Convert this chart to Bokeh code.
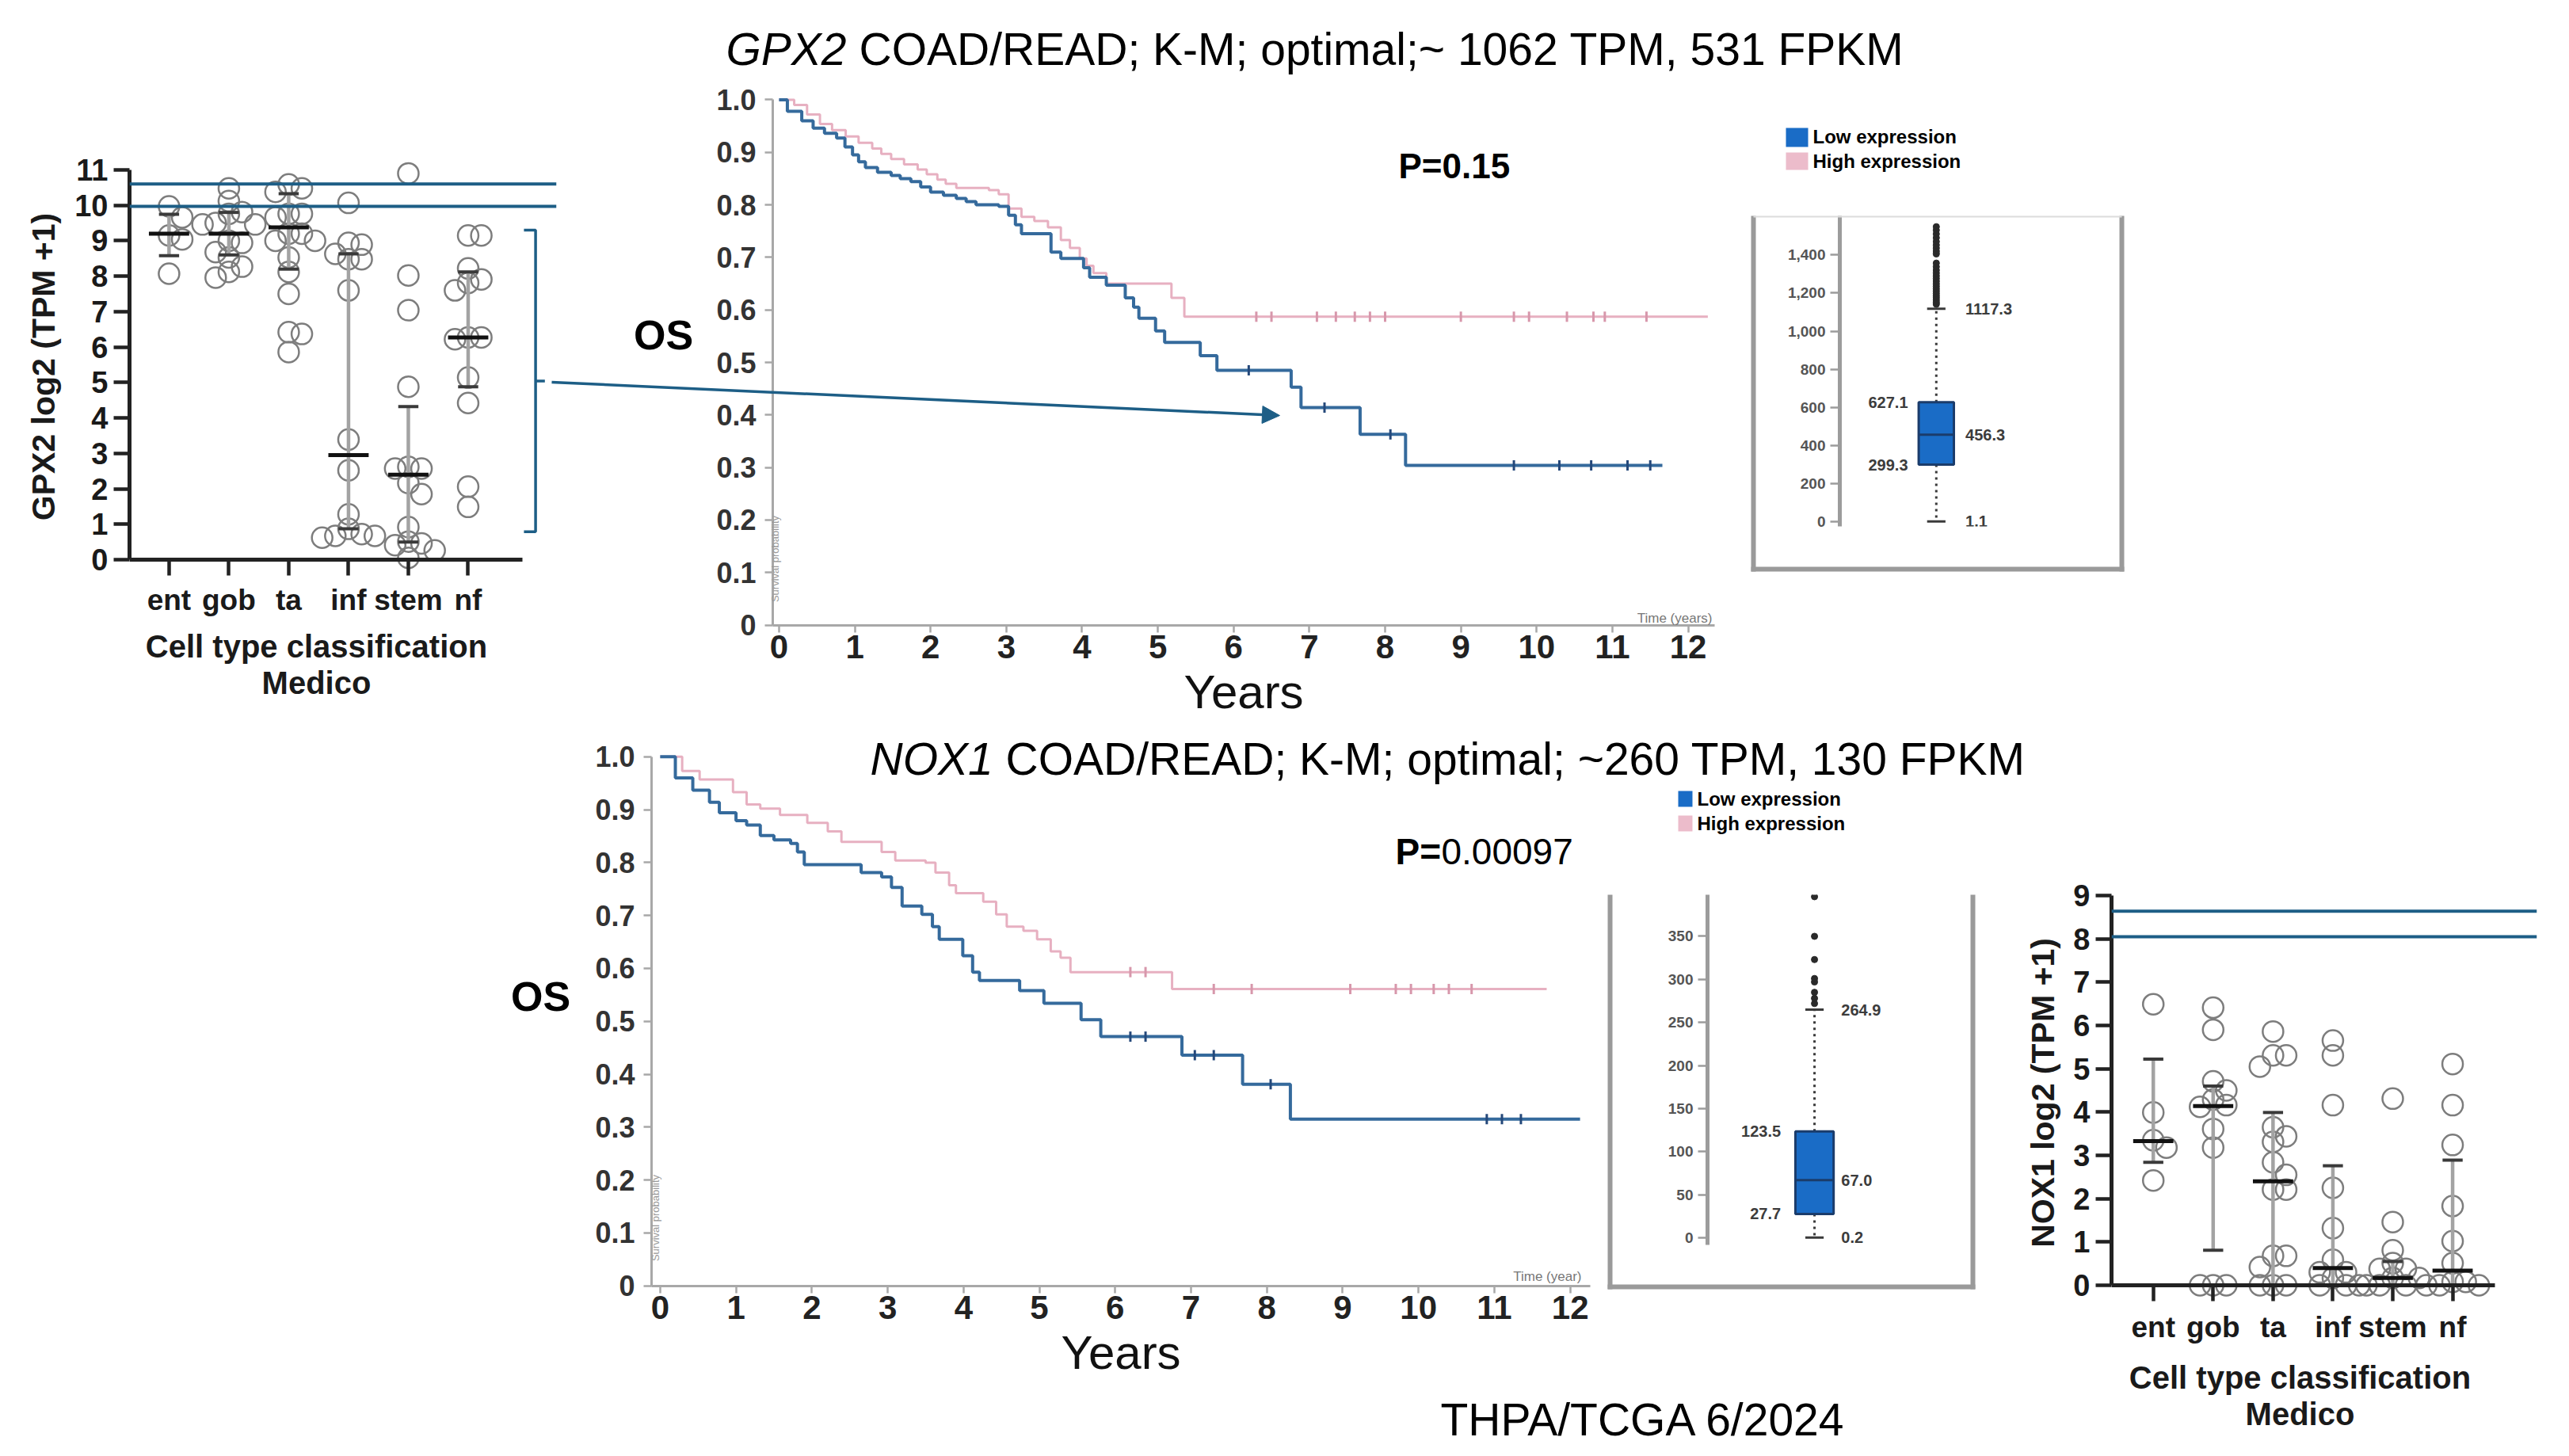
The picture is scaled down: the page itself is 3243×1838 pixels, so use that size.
import numpy as np
from bokeh.plotting import figure
from bokeh.models import (Range1d, FixedTicker, Span, Column, PrintfTickFormatter,
                          NumeralTickFormatter, Arrow, NormalHead, LinearAxis)
from bokeh.core.properties import value
from bokeh.embed import file_html
from bokeh.resources import INLINE

FONT = "Liberation Sans"

# ------------------------------------------------------------------ data
CELL_TYPES = ["ent", "gob", "ta", "inf", "stem", "nf"]
CELL_AXIS_TITLE = ["Cell type classification", "Medico"]

# GPX2 log2(TPM+1) per cell type (Medico)
GPX2_ENT = [9.97, 9.66, 9.15, 9.04, 8.07]
GPX2_GOB = [10.48, 10.12, 9.81, 9.76, 9.50, 9.46, 9.46, 9.00, 8.94, 8.68, 8.53, 8.27, 8.12, 7.96]
GPX2_TA = [10.59, 10.48, 10.38, 9.76, 9.76, 9.66, 9.20, 9.20, 9.00, 9.00, 8.53, 8.12, 7.50, 6.42, 6.37, 5.86]
GPX2_INF = [10.07, 8.94, 8.89, 8.63, 8.48, 8.48, 7.60, 3.39, 2.52, 1.28, 0.87, 0.72, 0.67, 0.67, 0.62]
GPX2_STEM = [10.90, 8.02, 7.04, 4.88, 2.62, 2.57, 2.57, 2.16, 1.85, 0.92, 0.51, 0.46, 0.41, 0.26, 0.05]
GPX2_NF = [9.15, 9.15, 8.22, 7.91, 7.81, 7.60, 6.27, 6.27, 6.22, 5.14, 4.42, 2.06, 1.49]
GPX2_MEDIAN = [9.20, 9.20, 9.38, 2.95, 2.40, 6.27]
GPX2_ERR_LOW = [8.58, 8.60, 8.20, 0.87, 0.50, 4.88]
GPX2_ERR_HIGH = [9.75, 9.80, 10.33, 8.63, 4.32, 8.12]
GPX2_REF_LINES = [10.60, 9.97]
GPX2_BRACKET = [0.79, 5.04, 9.30]

# NOX1 log2(TPM+1) per cell type (Medico)
NOX1_ENT = [6.49, 3.99, 3.35, 3.18, 2.42]
NOX1_GOB = [6.41, 5.90, 4.71, 4.50, 4.29, 4.16, 4.12, 3.61, 3.18, 0.0, 0.0, 0.0]
NOX1_TA = [5.86, 5.31, 5.31, 5.05, 3.65, 3.44, 3.31, 2.84, 2.55, 2.21, 2.21, 0.68, 0.68, 0.42, 0.0, 0.0, 0.0]
NOX1_INF = [5.65, 5.31, 4.16, 2.25, 1.32, 0.59, 0.30, 0.30, 0.17, 0.0, 0.0, 0.0]
NOX1_STEM = [4.31, 1.46, 0.81, 0.51, 0.38, 0.38, 0.17, 0.17, 0.0, 0.0, 0.0]
NOX1_NF = [5.11, 4.16, 3.24, 1.83, 1.02, 0.51, 0.08, 0.08, 0.0, 0.0, 0.0]
NOX1_MEDIAN = [3.33, 4.14, 2.40, 0.40, 0.17, 0.34]
NOX1_ERR_LOW = [2.84, 0.81, 0.0, 0.0, 0.0, 0.0]
NOX1_ERR_HIGH = [5.22, 4.60, 3.99, 2.76, 0.55, 2.89]
NOX1_REF_LINES = [8.64, 8.05]

# Kaplan-Meier, GPX2 (years, survival after the step)
GPX2_LOW_T = [0, 0.11, 0.30, 0.45, 0.60, 0.76, 0.87, 0.97, 1.05, 1.14, 1.30, 1.48, 1.60, 1.74, 1.87, 2.00,
              2.17, 2.34, 2.47, 2.60, 2.90, 3.03, 3.12, 3.20, 3.59, 3.72, 4.02, 4.10, 4.32, 4.57, 4.68,
              4.75, 4.97, 5.09, 5.56, 5.78, 6.76, 6.89, 7.67, 8.27]
GPX2_LOW_S = [1.0, 0.978, 0.960, 0.946, 0.936, 0.927, 0.910, 0.895, 0.882, 0.871, 0.862, 0.856, 0.850,
              0.844, 0.834, 0.824, 0.818, 0.812, 0.806, 0.800, 0.797, 0.780, 0.762, 0.745, 0.710, 0.698,
              0.680, 0.662, 0.647, 0.623, 0.605, 0.584, 0.560, 0.538, 0.513, 0.485, 0.453, 0.414, 0.363,
              0.304]
GPX2_LOW_END = 11.66
GPX2_LOW_CENSOR = [6.2, 7.2, 8.07, 9.7, 10.3, 10.72, 11.2, 11.5]
GPX2_HIGH_T = [0, 0.20, 0.37, 0.54, 0.70, 0.88, 1.05, 1.23, 1.35, 1.48, 1.65, 1.83, 1.95, 2.09, 2.20, 2.34,
               2.77, 2.90, 3.03, 3.20, 3.37, 3.55, 3.72, 3.84, 3.97, 4.06, 4.15, 4.32, 5.18, 5.35]
GPX2_HIGH_S = [1.0, 0.990, 0.972, 0.954, 0.942, 0.930, 0.918, 0.907, 0.897, 0.887, 0.877, 0.867, 0.858,
               0.848, 0.840, 0.832, 0.828, 0.820, 0.793, 0.777, 0.769, 0.757, 0.733, 0.718, 0.698, 0.684,
               0.670, 0.650, 0.623, 0.587]
GPX2_HIGH_END = 12.26
GPX2_HIGH_CENSOR = [6.3, 6.5, 7.1, 7.35, 7.6, 7.8, 8.0, 9.0, 9.7, 9.9, 10.4, 10.75, 10.9, 11.45]
GPX2_P = "P=0.15"

# Kaplan-Meier, NOX1
NOX1_LOW_T = [0, 0.20, 0.43, 0.65, 0.78, 1.00, 1.14, 1.32, 1.50, 1.72, 1.81, 1.90, 2.65, 2.92, 3.05, 3.19,
              3.45, 3.59, 3.68, 3.99, 4.12, 4.21, 4.74, 5.06, 5.55, 5.81, 6.88, 7.68, 8.31]
NOX1_LOW_S = [1.0, 0.960, 0.937, 0.914, 0.894, 0.879, 0.871, 0.851, 0.843, 0.836, 0.820, 0.796, 0.781,
              0.773, 0.753, 0.718, 0.702, 0.679, 0.655, 0.624, 0.593, 0.577, 0.558, 0.534, 0.503, 0.471,
              0.436, 0.381, 0.315]
NOX1_LOW_END = 12.13
NOX1_LOW_CENSOR = [6.2, 6.4, 7.05, 7.3, 8.05, 10.9, 11.1, 11.35]
NOX1_HIGH_T = [0, 0.29, 0.52, 0.96, 1.14, 1.32, 1.58, 1.94, 2.21, 2.39, 2.92, 3.10, 3.50, 3.63, 3.81, 3.90,
               4.26, 4.43, 4.57, 4.79, 4.97, 5.15, 5.28, 5.41, 6.75]
NOX1_HIGH_S = [1.0, 0.973, 0.957, 0.933, 0.910, 0.902, 0.890, 0.875, 0.859, 0.839, 0.820, 0.804, 0.800,
               0.781, 0.757, 0.742, 0.726, 0.702, 0.679, 0.671, 0.655, 0.632, 0.620, 0.593, 0.561]
NOX1_HIGH_END = 11.69
NOX1_HIGH_CENSOR = [6.2, 6.4, 7.3, 7.8, 9.1, 9.7, 9.9, 10.2, 10.4, 10.7]
NOX1_P_BOLD = "P="
NOX1_P_VALUE = "0.00097"

# TPM box plots: [lower whisker, Q1, median, Q3, upper whisker]
GPX2_BOX = [1.1, 299.3, 456.3, 627.1, 1117.3]
GPX2_BOX_OUTLIERS = [1141, 1152, 1163, 1175, 1186, 1198, 1210, 1222, 1235, 1248, 1262, 1276, 1290, 1305,
                     1320, 1338, 1357, 1405, 1420, 1436, 1452, 1470, 1490, 1510, 1530, 1548]
GPX2_BOX_TICKS = [0, 200, 400, 600, 800, 1000, 1200, 1400]
NOX1_BOX = [0.2, 27.7, 67.0, 123.5, 264.9]
NOX1_BOX_OUTLIERS = [272, 278, 285, 297, 301, 323, 350, 396]
NOX1_BOX_TICKS = [0, 50, 100, 150, 200, 250, 300, 350]

KM_YTICKS = [0, 0.1, 0.2, 0.3, 0.4, 0.5, 0.6, 0.7, 0.8, 0.9, 1.0]
KM_XTICKS = list(range(0, 13))

# ------------------------------------------------------------------ style
NAVY = "#1d5e86"
LOW_C = "#356a9c"
LOW_CENS = "#24487a"
HIGH_C = "#e7b0c1"
HIGH_CENS = "#d797ab"
BOX_FILL = "#1a6cc6"
BOX_EDGE = "#1b3c6b"
PAD_L = 190   # generous side borders so the plot frame lands exactly where wanted
PAD_R = 28


def base_fig(canvas, frame, x_range, y_range):
    cl, ct, cr, cb = canvas
    fl, ft, fr, fb = frame
    p = figure(width=cr - cl, height=cb - ct, x_range=x_range, y_range=y_range,
               output_backend="svg", toolbar_location=None,
               min_border_left=fl - cl, min_border_right=cr - fr,
               min_border_top=ft - ct, min_border_bottom=cb - fb)
    p.background_fill_color = None
    p.border_fill_color = None
    p.outline_line_color = None
    p.grid.visible = False
    p.styles = {"position": "absolute", "left": f"{cl - 8}px", "top": f"{ct - 8}px"}
    return p


def style_axis(ax, line_color, line_width, tick_out, tick_width, size, color, standoff, bold=True):
    ax.axis_line_color = line_color
    ax.axis_line_width = line_width
    ax.major_tick_line_color = line_color
    ax.major_tick_line_width = tick_width
    ax.major_tick_out = tick_out
    ax.major_tick_in = 0
    ax.minor_tick_line_color = None
    ax.major_label_text_font = FONT
    ax.major_label_text_font_size = size
    ax.major_label_text_font_style = "bold" if bold else "normal"
    ax.major_label_text_color = color
    ax.major_label_standoff = standoff


def swarm(vals, pxu_y, step=17.0, mind=16.0):
    placed, offs = [], []
    cands = [0.0]
    for i in range(1, 10):
        cands += [i * step, -i * step]
    for v in vals:
        y = v * pxu_y
        for c in cands:
            if all((c - px) ** 2 + (y - py) ** 2 >= mind ** 2 for px, py in placed):
                break
        placed.append((c, y))
        offs.append(c)
    return offs


def dot_panel(groups, med, elo, ehi, refs, ylabel, ytop, canvas, frame,
              first_x, pxu_x, y0_px, pxu_y, axis_end_px, label_standoff, cat_standoff):
    fl, ft, fr, fb = frame
    xr = Range1d(1 + (fl - first_x) / pxu_x, 1 + (fr - first_x) / pxu_x)
    yr = Range1d((y0_px - fb) / pxu_y, (y0_px - ft) / pxu_y)
    p = base_fig(canvas, frame, xr, yr)
    for v in refs:
        p.add_layout(Span(location=v, dimension="width", line_color=NAVY, line_width=4))
    cx, cy = [], []
    for i, vals in enumerate(groups):
        offs = swarm(vals, pxu_y)
        cx += [i + 1 + o / pxu_x for o in offs]
        cy += vals
    p.scatter(cx, cy, marker="circle", size=26, fill_color=None,
              line_color="#7d7d7d", line_width=2.5)
    pos = list(range(1, len(groups) + 1))
    p.segment(pos, elo, pos, ehi, line_color="#a3a3a3", line_width=4.5)
    cap = 13 / pxu_x
    mw = 26 / pxu_x
    p.segment([x - cap for x in pos], elo, [x + cap for x in pos], elo, line_color="#3a3a3a", line_width=4)
    p.segment([x - cap for x in pos], ehi, [x + cap for x in pos], ehi, line_color="#3a3a3a", line_width=4)
    p.segment([x - mw for x in pos], med, [x + mw for x in pos], med, line_color="#111111", line_width=5)

    # x baseline + ticks drawn at y = 0
    base = LinearAxis(fixed_location=0, ticker=FixedTicker(ticks=pos),
                      bounds=(xr.start, 1 + (axis_end_px - first_x) / pxu_x))
    style_axis(base, "#222222", 5, 0, 4.5, "1px", None, 0)
    base.major_tick_in = 20
    base.major_label_text_alpha = 0
    p.add_layout(base, "above")
    # category names under the frame
    xa = p.xaxis[0]
    for ax in p.xaxis:
        if ax is not base:
            xa = ax
    xa.ticker = FixedTicker(ticks=pos)
    xa.major_label_overrides = {i + 1: n for i, n in enumerate(CELL_TYPES)}
    style_axis(xa, None, 1, 0, 1, "37px", "#1a1a1a", cat_standoff)
    xa.major_tick_line_color = None

    ya = p.yaxis[0]
    ya.bounds = (0, ytop)
    ya.ticker = FixedTicker(ticks=list(range(0, ytop + 1)))
    style_axis(ya, "#222222", 5, 20, 4.5, "38px", "#1a1a1a", 7)
    ya.axis_label = ylabel
    ya.axis_label_text_font = FONT
    ya.axis_label_text_font_size = "41px"
    ya.axis_label_text_font_style = "bold"
    ya.axis_label_text_color = "#1a1a1a"
    ya.axis_label_standoff = label_standoff
    return p


def km_panel(curves, canvas, frame, x0_px, pxu_x, y0_px, pxu_y):
    fl, ft, fr, fb = frame
    xr = Range1d((fl - x0_px) / pxu_x, (fr - x0_px) / pxu_x)
    yr = Range1d((y0_px - fb) / pxu_y, (y0_px - ft) / pxu_y)
    p = base_fig(canvas, frame, xr, yr)
    for t, s, t_end, cens, color, ccol, lw in curves:
        p.step(t + [t_end], s + [s[-1]], mode="after", line_color=color, line_width=lw)
        idx = np.searchsorted(np.array(t), np.array(cens), side="right") - 1
        p.scatter(cens, [s[i] for i in idx], marker="dash", angle=np.pi / 2, size=13,
                  line_color=ccol, line_width=3)
    xa, ya = p.xaxis[0], p.yaxis[0]
    xa.ticker = FixedTicker(ticks=KM_XTICKS)
    style_axis(xa, "#a8a8a8", 3, 9, 2.5, "42px", "#222222", 3)
    xa.axis_label = "Years"
    xa.axis_label_text_font = FONT
    xa.axis_label_text_font_size = "60px"
    xa.axis_label_text_font_style = "normal"
    xa.axis_label_text_color = "#111111"
    xa.axis_label_standoff = 6
    ya.ticker = FixedTicker(ticks=KM_YTICKS)
    ya.formatter = PrintfTickFormatter(format="%.1f")
    ya.major_label_overrides = {0: "0"}
    ya.bounds = (0, 1.0)
    style_axis(ya, "#a8a8a8", 3, 10, 2.5, "36px", "#333333", 11)
    return p


def box_panel(stats, outliers, ticks, canvas, frame, y0_px, pxu_y, center_px, half_px, cap_px, dx_r, dx_l):
    fl, ft, fr, fb = frame
    xr = Range1d(1 + (fl - center_px) / 100.0, 1 + (fr - center_px) / 100.0)
    yr = Range1d((y0_px - fb) / pxu_y, (y0_px - ft) / pxu_y)
    p = base_fig(canvas, frame, xr, yr)
    lo, q1, md, q3, hi = stats
    bw = 2 * half_px / 100.0
    cw = cap_px / 100.0
    p.segment([1, 1], [q3, q1], [1, 1], [hi, lo], line_color="#3a3a3a", line_width=3, line_dash="3 5")
    p.segment([1 - cw, 1 - cw], [hi, lo], [1 + cw, 1 + cw], [hi, lo], line_color="#3a3a3a", line_width=3)
    p.scatter([1] * len(outliers), outliers, marker="circle", size=8, fill_color="#2a2a2a",
              line_color="#2a2a2a")
    p.vbar(x=[1], bottom=[q1], top=[q3], width=bw, fill_color=BOX_FILL, line_color=BOX_EDGE, line_width=3)
    p.segment([1 - bw / 2], [md], [1 + bw / 2], [md], line_color=BOX_EDGE, line_width=3)
    rvals = [hi, md, lo]
    lvals = [q3, q1]
    p.text([1 + dx_r / 100.0] * 3, rvals, text=[f"{v:.1f}" for v in rvals], text_align="left",
           text_baseline="middle", text_font=value(FONT), text_font_size="20px",
           text_font_style="bold", text_color="#3c3c3c")
    p.text([1 - dx_l / 100.0] * 2, lvals, text=[f"{v:.1f}" for v in lvals], text_align="right",
           text_baseline="middle", text_font=value(FONT), text_font_size="20px",
           text_font_style="bold", text_color="#3c3c3c")
    p.xaxis.visible = False
    ya = p.yaxis[0]
    ya.ticker = FixedTicker(ticks=ticks)
    ya.formatter = NumeralTickFormatter(format="0,0")
    style_axis(ya, "#9c9c9c", 5, 12, 2.5, "19px", "#555555", 6)
    return p


# ------------------------------------------------------------------ panels
dot_top = dot_panel([GPX2_ENT, GPX2_GOB, GPX2_TA, GPX2_INF, GPX2_STEM, GPX2_NF],
                    GPX2_MEDIAN, GPX2_ERR_LOW, GPX2_ERR_HIGH, GPX2_REF_LINES,
                    "GPX2 log2 (TPM +1)", 11,
                    canvas=(161 - PAD_L, 140, 712 + PAD_R, 935), frame=(161, 200, 712, 741),
                    first_x=212, pxu_x=77.2, y0_px=714, pxu_y=44.73, axis_end_px=668,
                    label_standoff=13, cat_standoff=3)
# bracket grouping the low-expressing cell types
bx = 1 + (685 - 212) / 77.2
bt = 15 / 77.2
dot_top.line([bx - bt, bx, bx, bx - bt], [GPX2_BRACKET[2], GPX2_BRACKET[2], GPX2_BRACKET[0], GPX2_BRACKET[0]],
             line_color=NAVY, line_width=3.5)
dot_top.line([bx, bx + 12 / 77.2], [GPX2_BRACKET[1], GPX2_BRACKET[1]], line_color=NAVY, line_width=3.5)

dot_bot = dot_panel([NOX1_ENT, NOX1_GOB, NOX1_TA, NOX1_INF, NOX1_STEM, NOX1_NF],
                    NOX1_MEDIAN, NOX1_ERR_LOW, NOX1_ERR_HIGH, NOX1_REF_LINES,
                    "NOX1 log2 (TPM +1)", 9,
                    canvas=(2663 - PAD_L, 1060, 3240, 1832), frame=(2663, 1119, 3213, 1655),
                    first_x=2717, pxu_x=77.4, y0_px=1630, pxu_y=54.67, axis_end_px=3159,
                    label_standoff=12, cat_standoff=7)

km_top = km_panel([(GPX2_HIGH_T, GPX2_HIGH_S, GPX2_HIGH_END, GPX2_HIGH_CENSOR, HIGH_C, HIGH_CENS, 3),
                   (GPX2_LOW_T, GPX2_LOW_S, GPX2_LOW_END, GPX2_LOW_CENSOR, LOW_C, LOW_CENS, 4)],
                  canvas=(973 - PAD_L, 110, 2174 + PAD_R, 966), frame=(973, 126, 2174, 797),
                  x0_px=981, pxu_x=96.6, y0_px=796.6, pxu_y=663.2)
km_bot = km_panel([(NOX1_HIGH_T, NOX1_HIGH_S, NOX1_HIGH_END, NOX1_HIGH_CENSOR, HIGH_C, HIGH_CENS, 3),
                   (NOX1_LOW_T, NOX1_LOW_S, NOX1_LOW_END, NOX1_LOW_CENSOR, LOW_C, LOW_CENS, 4)],
                  canvas=(820 - PAD_L, 940, 2017 + PAD_R, 1800), frame=(820, 956, 2017, 1631),
                  x0_px=831, pxu_x=96.7, y0_px=1630.7, pxu_y=667.9)

box_top = box_panel(GPX2_BOX, GPX2_BOX_OUTLIERS, GPX2_BOX_TICKS,
                    canvas=(2320 - PAD_L, 280, 2680 + PAD_R, 726), frame=(2320, 280, 2680, 672),
                    y0_px=666, pxu_y=0.2405, center_px=2446, half_px=23, cap_px=12, dx_r=38, dx_l=37)
box_bot = box_panel(NOX1_BOX, NOX1_BOX_OUTLIERS, NOX1_BOX_TICKS,
                    canvas=(2153 - PAD_L, 1137, 2493 + PAD_R, 1634), frame=(2153, 1137, 2493, 1579),
                    y0_px=1570, pxu_y=1.0872, center_px=2293, half_px=25, cap_px=12, dx_r=35, dx_l=44)

# ------------------------------------------------------------------ overlay (titles, notes, arrow)
OV_L, OV_R = 8 + 200, 3235 - 30
ov = base_fig((8, 8, 3235, 1830), (OV_L, 8, OV_R, 1830), Range1d(OV_L - 8, OV_R - 8), Range1d(1822, 0))
ov.xaxis.visible = False
ov.yaxis.visible = False

# small text layer under the left dot plot (its frame starts at the page edge)
ov_left = base_fig((8 - 200, 700, 830, 900), (8, 700, 800, 900), Range1d(0, 792), Range1d(892, 692))
ov_left.xaxis.visible = False
ov_left.yaxis.visible = False


def T(x, y, s, size, style="normal", align="left", color="#000000", angle=0.0, fig=None):
    f = ov if fig is None else fig
    f.text([x - 8], [y - 8], text=[s], text_align=align, text_baseline="middle", angle=angle,
           text_font=value(FONT), text_font_size=size, text_font_style=style, text_color=color)


T(407, 823, CELL_AXIS_TITLE[0], "40px", "bold", "center", "#1a1a1a", fig=ov_left)
T(407, 869, CELL_AXIS_TITLE[1], "40px", "bold", "center", "#1a1a1a", fig=ov_left)
T(2911, 1746, CELL_AXIS_TITLE[0], "40px", "bold", "center", "#1a1a1a")
T(2911, 1792, CELL_AXIS_TITLE[1], "40px", "bold", "center", "#1a1a1a")

T(924, 69, "GPX2", "57px", "italic")
T(1092, 69, "COAD/READ; K-M; optimal;~ 1062 TPM, 531 FPKM", "57px")
T(1106, 965, "NOX1", "57px", "italic")
T(1277, 965, "COAD/READ; K-M; optimal; ~260 TPM, 130 FPKM", "57px")
T(1826, 1799, "THPA/TCGA 6/2024", "57px")
T(845, 430, "OS", "52px", "bold", "center")
T(690, 1265, "OS", "52px", "bold", "center")
T(1773, 217, GPX2_P, "44px", "bold")
T(1769, 1082, NOX1_P_BOLD, "46px", "bold")
T(1827, 1082, NOX1_P_VALUE, "46px")
T(2169, 788, "Time (years)", "17px", "normal", "right", "#777777")
T(2004, 1619, "Time (year)", "17px", "normal", "right", "#777777")
T(986, 713, "Survival probability", "13px", "normal", "center", "#9a9a9a", np.pi / 2)
T(835, 1545, "Survival probability", "13px", "normal", "center", "#9a9a9a", np.pi / 2)

# legends
ov.rect([2276 - 8, 2276 - 8], [181 - 8, 211 - 8], width=28, height=[24, 22],
        fill_color=[BOX_FILL, "#ecbccb"], line_color=None)
T(2296, 180, "Low expression", "24px", "bold")
T(2296, 211, "High expression", "24px", "bold")
ov.rect([2135 - 8, 2135 - 8], [1016 - 8, 1047 - 8], width=18, height=20,
        fill_color=[BOX_FILL, "#ecbccb"], line_color=None)
T(2150, 1016, "Low expression", "24px", "bold")
T(2150, 1047, "High expression", "24px", "bold")

# frames of the TPM inset images
ov.segment([2221 - 8, 2686 - 8, 2218 - 8], [280 - 8, 280 - 8, 726 - 8],
           [2221 - 8, 2686 - 8, 2689 - 8], [729 - 8, 729 - 8, 726 - 8], line_color="#9a9a9a", line_width=6)
ov.segment([2221 - 8], [281 - 8], [2686 - 8], [281 - 8], line_color="#dcdcdc", line_width=2)
ov.segment([2040 - 8, 2498 - 8, 2037 - 8], [1137 - 8, 1137 - 8, 1632 - 8],
           [2040 - 8, 2498 - 8, 2501 - 8], [1635 - 8, 1635 - 8, 1632 - 8], line_color="#9a9a9a", line_width=6)

ov.add_layout(Arrow(end=NormalHead(size=22, fill_color=NAVY, line_color=NAVY, line_width=1),
                    x_start=704 - 8, y_start=490 - 8, x_end=1623 - 8, y_end=532 - 8,
                    line_color=NAVY, line_width=3.5))

root = Column(children=[dot_top, km_top, box_top, km_bot, box_bot, dot_bot, ov_left, ov],
              width=3227, height=1822, sizing_mode="fixed", styles={"position": "relative"})

open("out.html", "w").write(file_html(root, INLINE))
